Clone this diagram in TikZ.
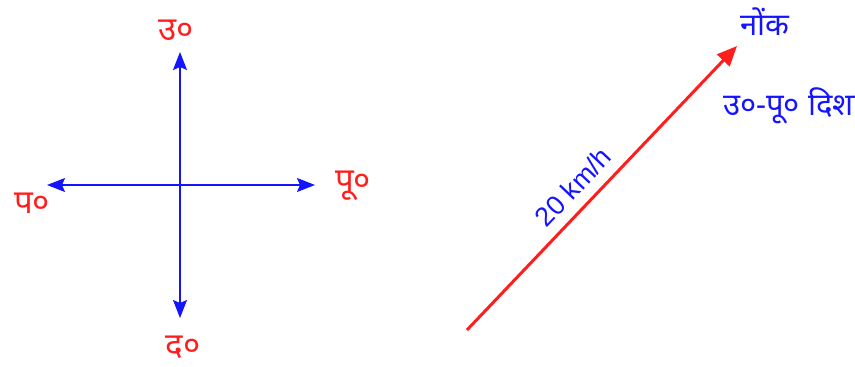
\documentclass[tikz,border=0pt]{standalone}
\usepackage{fontspec}
\setmainfont{Liberation Sans}
\newfontfamily\deva[Script=Devanagari]{Noto Sans}
\usetikzlibrary{arrows.meta}
\definecolor{myblue}{RGB}{20,20,255}
\definecolor{myred}{RGB}{255,30,30}
\begin{document}
\begin{tikzpicture}[x=1pt,y=-1pt,
  axis/.style={draw=myblue,line width=1.4pt,-{Stealth[length=18pt,width=14pt,inset=3pt]}},
  dirlabel/.style={text=myred,font=\deva\fontsize{33}{36}\selectfont,inner sep=0pt},
  bluelabel/.style={text=myblue,font=\deva\fontsize{31}{34}\selectfont,inner sep=0pt},
  vec/.style={draw=myred,line width=3pt,-{Triangle[length=20pt,width=17pt]}}]
\useasboundingbox (0,0) rectangle (855,367);
\begin{scope}
\clip (0,0) rectangle (855,367);
\coordinate (c) at (180,185);
\coordinate (n) at (180,52);
\coordinate (s) at (180,318);
\coordinate (w) at (47,185);
\coordinate (e) at (315,185);
\draw[axis] (c) -- (n);
\draw[axis] (c) -- (s);
\draw[axis] (c) -- (w);
\draw[axis] (c) -- (e);
\node[dirlabel] (ln) at (176,30) {उ०};
\node[dirlabel] (lw) at (32,203) {प०};
\node[dirlabel] (le) at (353,186) {पू०};
\node[dirlabel] (ls) at (183,347) {द०};
\coordinate (a0) at (467,330);
\coordinate (a1) at (737,46);
\draw[vec] (a0) -- (a1);
\node[text=myblue,font=\fontsize{27}{30}\selectfont,rotate=46.5,inner sep=0pt] (sp) at (573,187) {20 km/h};
\node[bluelabel] (tip) at (765,22) {नोंक};
\node[bluelabel,anchor=west] (dir) at (723,106) {उ०-पू० दिशा};
\end{scope}
\end{tikzpicture}
\end{document}
